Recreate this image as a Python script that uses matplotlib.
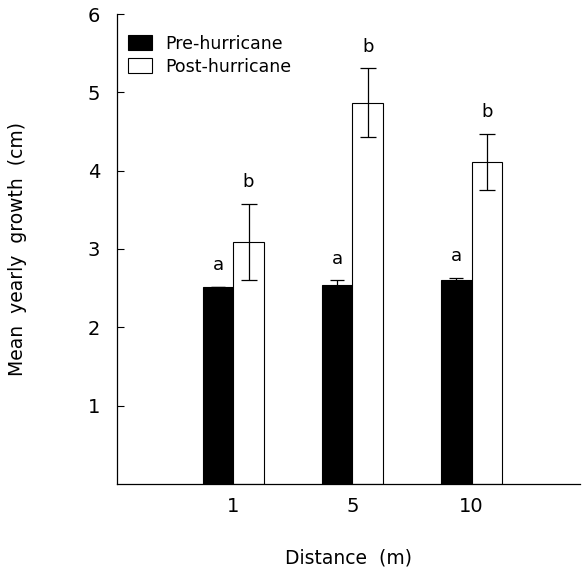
import matplotlib
matplotlib.use("Agg")
import matplotlib.pyplot as plt
import numpy as np

distances = ["1", "5", "10"]
pre_mean = [2.52, 2.54, 2.61]
pre_err = [0.0, 0.06, 0.02]
post_mean = [3.09, 4.87, 4.11]
post_err = [0.49, 0.44, 0.36]
pre_letters = ["a", "a", "a"]
post_letters = ["b", "b", "b"]
yticks = [1, 2, 3, 4, 5, 6]

plt.rcParams['font.family'] = ['DejaVu Sans']

fig = plt.figure(figsize=(5.82, 5.73), dpi=100)
ax = fig.add_axes([117/582, 1-484/573, (580-117)/582, (484-14)/573])

x = np.arange(len(distances))
w = 0.255
ax.bar(x - w/2, pre_mean, w, color='black', edgecolor='black', linewidth=0.8,
       label='Pre-hurricane', zorder=2)
ax.bar(x + w/2, post_mean, w, color='white', edgecolor='black', linewidth=0.8,
       label='Post-hurricane', zorder=2)
ax.errorbar(x - w/2, pre_mean, yerr=pre_err, fmt='none', ecolor='black',
            elinewidth=0.9, capsize=5, capthick=0.9, zorder=3)
ax.errorbar(x + w/2, post_mean, yerr=post_err, fmt='none', ecolor='black',
            elinewidth=0.9, capsize=6, capthick=0.9, zorder=3)

for xi, m, e, t in zip(x - w/2, pre_mean, pre_err, pre_letters):
    ax.annotate(t, (xi, m + e), xytext=(0, 9), textcoords='offset points',
                ha='center', va='bottom', fontsize=13, color='black')
for xi, m, e, t in zip(x + w/2, post_mean, post_err, post_letters):
    ax.annotate(t, (xi, m + e), xytext=(0, 9), textcoords='offset points',
                ha='center', va='bottom', fontsize=13, color='black')

ax.set_xlim(-0.977, 2.91)
ax.set_ylim(0, 6)
ax.set_yticks(yticks)
ax.set_yticklabels([str(v) for v in yticks], fontsize=14)
ax.tick_params(axis='y', direction='in', length=5, width=0.8, pad=12)
ax.set_xticks(x)
ax.set_xticklabels(distances, fontsize=14)
ax.tick_params(axis='x', length=0, pad=9)

for s in ['top', 'right']:
    ax.spines[s].set_visible(False)
for s in ['left', 'bottom']:
    ax.spines[s].set_linewidth(0.9)

ax.set_ylabel('Mean  yearly  growth  (cm)', fontsize=13.5, labelpad=44)
ax.set_xlabel('Distance  (m)', fontsize=13.5, labelpad=24)

leg = ax.legend(loc='upper left', bbox_to_anchor=(0.0, 0.98), frameon=False,
                fontsize=12.5, handlelength=1.35, handleheight=0.95,
                handletextpad=0.8, labelspacing=0.3, borderaxespad=0.25)

fig.savefig('out.png', dpi=100)
